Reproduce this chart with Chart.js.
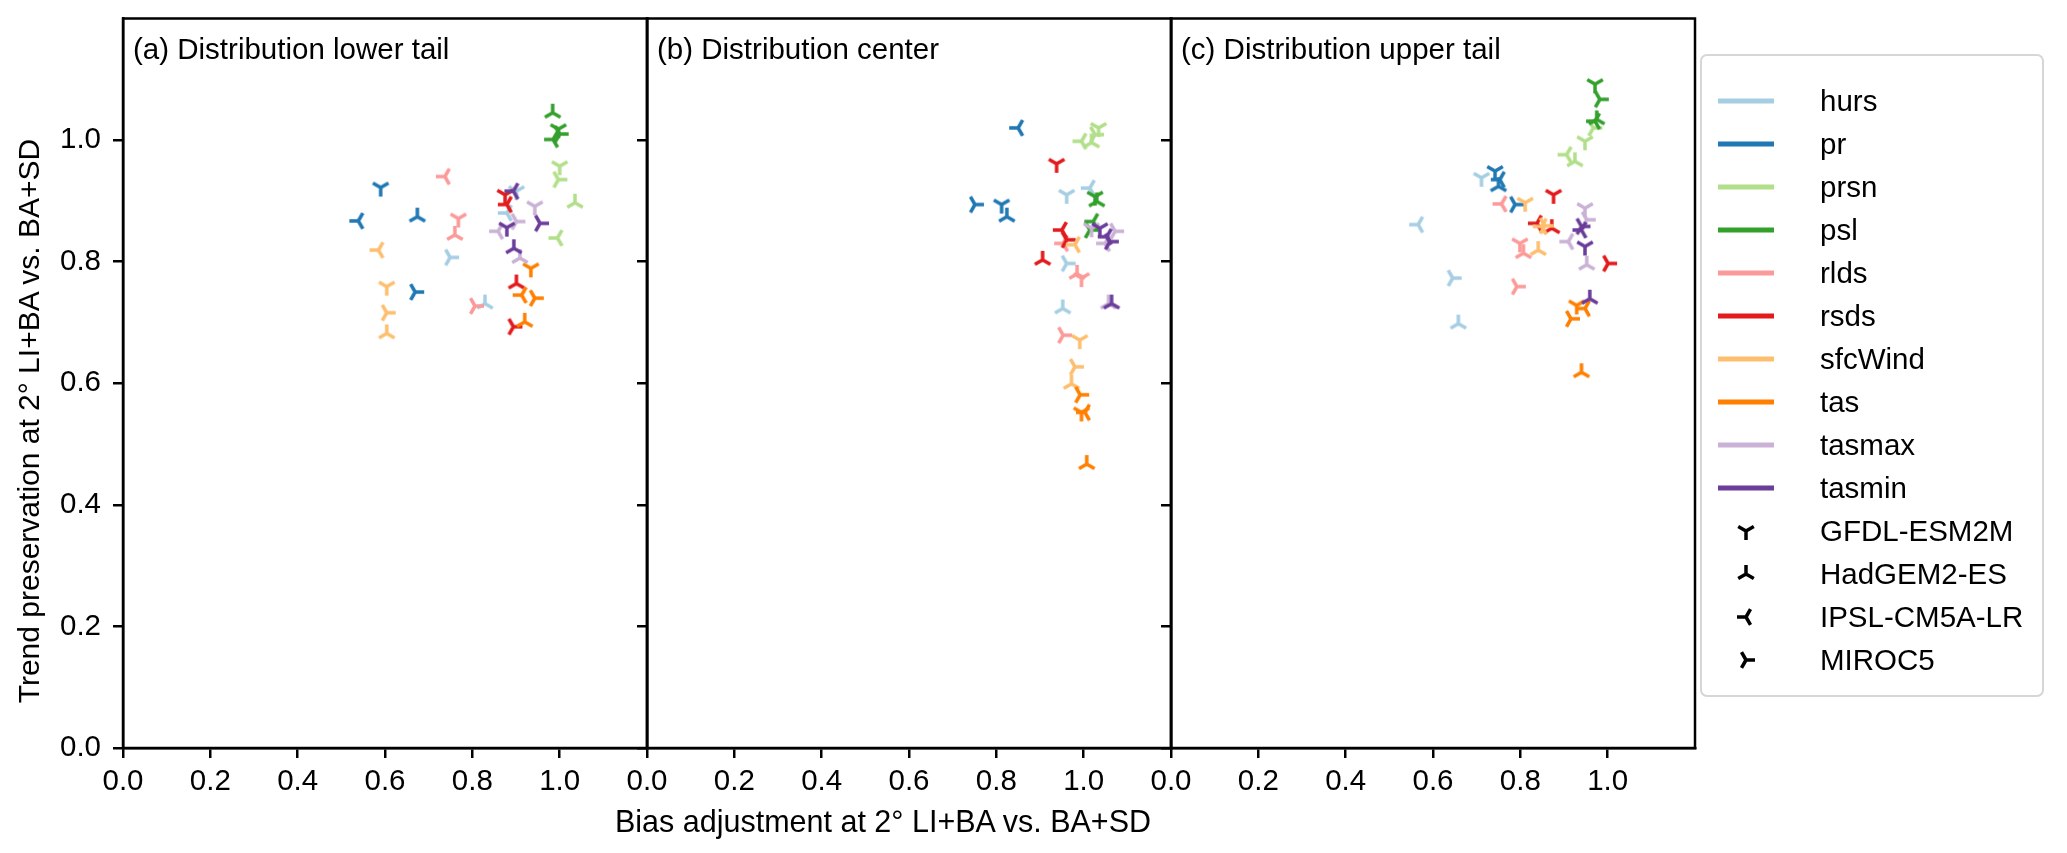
<!DOCTYPE html>
<html>
<head>
<meta charset="utf-8">
<script src="https://cdn.jsdelivr.net/npm/chart.js@4.4.0/dist/chart.umd.min.js"></script>
<style>
html,body{margin:0;padding:0;background:#fff;}
#wrap{position:relative;width:2067px;height:853px;overflow:hidden;background:#fff;font-family:"Liberation Sans",Arial,sans-serif;color:#000;}
#wrap canvas.panel{position:absolute;left:0;top:0;}
#xlabel{position:absolute;left:483px;width:800px;top:804px;height:34px;line-height:34px;text-align:center;font-size:30.5px;white-space:nowrap;}
#ylabel{position:absolute;left:-321px;width:700px;top:403px;height:36px;line-height:36px;text-align:center;font-size:30px;white-space:nowrap;transform:rotate(-90deg);transform-origin:50% 50%;}
#legend{position:absolute;left:1700px;top:54px;width:344px;height:643px;box-sizing:border-box;border:2px solid #d6d6d6;border-radius:7px;background:#fff;}
.lrow{position:absolute;left:0;height:43px;display:flex;align-items:center;font-size:29.5px;white-space:nowrap;}
.lrow canvas{display:block;margin-left:16px;margin-right:46px;}
</style>
</head>
<body>
<div id="wrap">
  <canvas class="panel" id="pa" width="2067" height="853"></canvas>
  <canvas class="panel" id="pb" width="2067" height="853"></canvas>
  <canvas class="panel" id="pc" width="2067" height="853"></canvas>
  <div id="xlabel">Bias adjustment at 2° LI+BA vs. BA+SD</div>
  <div id="ylabel">Trend preservation at 2° LI+BA vs. BA+SD</div>
  <div id="legend"></div>
</div>
<script>
// ---------------- data ----------------
const variables = ['hurs','pr','prsn','psl','rlds','rsds','sfcWind','tas','tasmax','tasmin'];
const variableColors = ['#a6cee3','#1f78b4','#b2df8a','#33a02c','#fb9a99','#e31a1c','#fdbf6f','#ff7f00','#cab2d6','#6a3d9a'];
const models = ['GFDL-ESM2M','HadGEM2-ES','IPSL-CM5A-LR','MIROC5'];
const modelMarkers = ['tri_down','tri_up','tri_left','tri_right'];
const panelTitles = ['(a) Distribution lower tail','(b) Distribution center','(c) Distribution upper tail'];
const xTickValues = [0.0,0.2,0.4,0.6,0.8,1.0];
const yTickValues = [0.0,0.2,0.4,0.6,0.8,1.0];

// rows: variables, columns: models (GFDL, HadGEM, IPSL, MIROC)
const lowerTailX = [
  [0.901,0.829,0.879,0.749],
  [0.590,0.674,0.539,0.669],
  [1.000,1.035,0.995,0.997],
  [0.997,0.984,0.985,1.000],
  [0.768,0.760,0.737,0.806],
  [0.875,0.901,0.879,0.894],
  [0.604,0.604,0.585,0.604],
  [0.934,0.920,0.913,0.943],
  [0.943,0.909,0.859,0.901],
  [0.879,0.895,0.894,0.955]
];
const lowerTailY = [
  [0.916,0.731,0.880,0.807],
  [0.922,0.874,0.867,0.750],
  [0.957,0.897,0.839,0.935],
  [1.018,1.045,1.001,1.010],
  [0.871,0.844,0.940,0.727],
  [0.910,0.764,0.894,0.693],
  [0.759,0.682,0.819,0.716],
  [0.789,0.701,0.745,0.740],
  [0.891,0.806,0.850,0.866],
  [0.856,0.822,0.916,0.863]
];
const centerX = [
  [0.961,0.952,1.014,0.961],
  [0.812,0.824,0.850,0.751],
  [1.034,1.018,0.995,1.026],
  [1.026,1.030,1.022,1.014],
  [0.995,0.985,0.953,0.953],
  [0.938,0.906,0.950,0.961],
  [0.991,0.972,0.980,0.980],
  [0.995,1.007,1.003,0.992],
  [1.018,1.057,1.049,1.072],
  [1.037,1.064,1.053,1.060]
];
const centerY = [
  [0.910,0.723,0.921,0.797],
  [0.894,0.874,1.020,0.894],
  [1.020,0.996,0.998,1.009],
  [0.907,0.899,0.866,0.852],
  [0.773,0.780,0.830,0.679],
  [0.961,0.803,0.852,0.836],
  [0.671,0.599,0.828,0.627],
  [0.552,0.467,0.552,0.581],
  [0.855,0.731,0.830,0.850],
  [0.855,0.731,0.841,0.833]
];
const upperTailX = [
  [0.711,0.658,0.566,0.645],
  [0.742,0.750,0.753,0.788],
  [0.948,0.925,0.906,0.967],
  [0.971,0.975,0.971,0.982],
  [0.799,0.807,0.757,0.792],
  [0.876,0.872,0.838,1.001],
  [0.811,0.841,0.849,0.856],
  [0.929,0.940,0.948,0.916],
  [0.948,0.952,0.910,0.952],
  [0.948,0.959,0.940,0.940]
];
const upperTailY = [
  [0.938,0.698,0.861,0.773],
  [0.949,0.924,0.935,0.894],
  [0.998,0.965,0.976,1.020],
  [1.092,1.034,1.031,1.067],
  [0.830,0.814,0.895,0.759],
  [0.910,0.855,0.863,0.797],
  [0.897,0.819,0.858,0.859],
  [0.728,0.618,0.723,0.706],
  [0.888,0.795,0.833,0.869],
  [0.825,0.739,0.852,0.858]
];

// ---------------- style / layout ----------------
const FONT = '"Liberation Sans", Arial, sans-serif';
const FS = 29.5;
const AX_LW = 2.5;
const MARK_R = 9;
const MARK_LW = 3.5;
const PLOT_TOP = 18.5;
const PLOT_BOTTOM = 748;
const CANVAS_W = 2067, CANVAS_H = 853;
const panelLeft = [123, 647, 1171];
const panelRight = [647, 1171, 1695];

function makeMarker(kind, color) {
  const pad = Math.ceil(MARK_LW) + 1;
  const size = Math.ceil(2 * (MARK_R + pad));
  const c = document.createElement('canvas');
  c.width = size; c.height = size;
  const ctx = c.getContext('2d');
  ctx.translate(size / 2, size / 2);
  const rot = {tri_down: 0, tri_up: Math.PI, tri_left: Math.PI / 2, tri_right: -Math.PI / 2}[kind];
  ctx.rotate(rot);
  ctx.strokeStyle = color;
  ctx.lineWidth = MARK_LW;
  ctx.lineCap = 'butt';
  ctx.lineJoin = 'miter';
  ctx.beginPath();
  ctx.moveTo(0, 0); ctx.lineTo(0, MARK_R);
  ctx.moveTo(0, 0); ctx.lineTo(0.866 * MARK_R, -0.5 * MARK_R);
  ctx.moveTo(0, 0); ctx.lineTo(-0.866 * MARK_R, -0.5 * MARK_R);
  ctx.stroke();
  return c;
}

const panelTitlePlugin = {
  id: 'panelTitle',
  afterDraw(chart, args, opts) {
    const {ctx, chartArea} = chart;
    ctx.save();
    ctx.strokeStyle = '#000';
    ctx.lineWidth = AX_LW;
    ctx.strokeRect(chartArea.left, chartArea.top, chartArea.right - chartArea.left, chartArea.bottom - chartArea.top);
    ctx.fillStyle = '#000';
    ctx.font = FS + 'px ' + FONT;
    ctx.textBaseline = 'middle';
    ctx.textAlign = 'left';
    ctx.fillText(opts.text, chartArea.left + 10, chartArea.top + 32);
    ctx.restore();
  }
};

function buildChart(id, idx, xs, ys) {
  const datasets = variables.map((v, i) => ({
    label: v,
    data: models.map((m, j) => ({x: xs[i][j], y: ys[i][j]})),
    pointStyle: modelMarkers.map(k => makeMarker(k, variableColors[i])),
    pointRadius: MARK_R,
    pointHoverRadius: MARK_R,
    showLine: false,
    order: -i
  }));
  const yWidth = idx === 0 ? panelLeft[0] : 12;
  const padLeft = panelLeft[idx] - yWidth;
  const padRight = CANVAS_W - panelRight[idx];
  const tickFont = {family: FONT, size: FS};
  return new Chart(document.getElementById(id), {
    type: 'scatter',
    data: {datasets},
    plugins: [panelTitlePlugin],
    options: {
      responsive: false,
      animation: false,
      devicePixelRatio: 1,
      events: [],
      layout: {padding: {left: padLeft, right: padRight, top: PLOT_TOP, bottom: 0}},
      plugins: {
        legend: {display: false},
        tooltip: {enabled: false},
        panelTitle: {text: panelTitles[idx]}
      },
      scales: {
        x: {
          type: 'linear', min: 0, max: 1.2,
          afterBuildTicks: s => { s.ticks = xTickValues.map(v => ({value: v})); },
          afterFit: s => { s.height = CANVAS_H - PLOT_BOTTOM; s.paddingLeft = 0; s.paddingRight = 0; },
          ticks: {font: tickFont, color: '#000', padding: 6, maxRotation: 0, autoSkip: false,
                  callback: v => Number(v).toFixed(1)},
          grid: {drawOnChartArea: false, drawTicks: true, tickLength: 10, color: '#000', lineWidth: AX_LW},
          border: {display: true, color: '#000', width: AX_LW}
        },
        y: {
          type: 'linear', min: 0, max: 1.2,
          afterBuildTicks: s => { s.ticks = yTickValues.map(v => ({value: v})); },
          afterFit: s => { s.width = yWidth; s.paddingTop = 0; s.paddingBottom = 0; },
          ticks: {font: tickFont, color: '#000', padding: 12, autoSkip: false,
                  callback: v => idx === 0 ? Number(v).toFixed(1) : ''},
          grid: {drawOnChartArea: false, drawTicks: true, tickLength: 10, color: '#000', lineWidth: AX_LW},
          border: {display: true, color: '#000', width: AX_LW}
        }
      }
    }
  });
}

buildChart('pa', 0, lowerTailX, lowerTailY);
buildChart('pb', 1, centerX, centerY);
buildChart('pc', 2, upperTailX, upperTailY);

// ---------------- legend ----------------
const legendEl = document.getElementById('legend');
const ROW0 = 100.5 - 54 - 2;   // first row centre relative to legend padding box
const ROWH = 43;
function handleCanvas() {
  const c = document.createElement('canvas');
  c.width = 56; c.height = 30;
  return c;
}
function addRow(k, drawFn, text) {
  const r = document.createElement('div');
  r.className = 'lrow';
  r.style.top = (ROW0 - ROWH / 2 + ROWH * k) + 'px';
  const c = handleCanvas();
  drawFn(c.getContext('2d'), c);
  r.appendChild(c);
  const t = document.createElement('span');
  t.textContent = text;
  r.appendChild(t);
  legendEl.appendChild(r);
}
let row = 0;
variables.forEach((v, i) => {
  addRow(row++, (ctx, c) => {
    ctx.strokeStyle = variableColors[i];
    ctx.lineWidth = 5;
    ctx.beginPath(); ctx.moveTo(0, 15); ctx.lineTo(c.width, 15); ctx.stroke();
  }, v);
});
models.forEach((m, j) => {
  addRow(row++, (ctx, c) => {
    const mk = makeMarker(modelMarkers[j], '#000');
    ctx.drawImage(mk, c.width / 2 - mk.width / 2, 15 - mk.height / 2);
  }, m);
});
</script>
</body>
</html>
